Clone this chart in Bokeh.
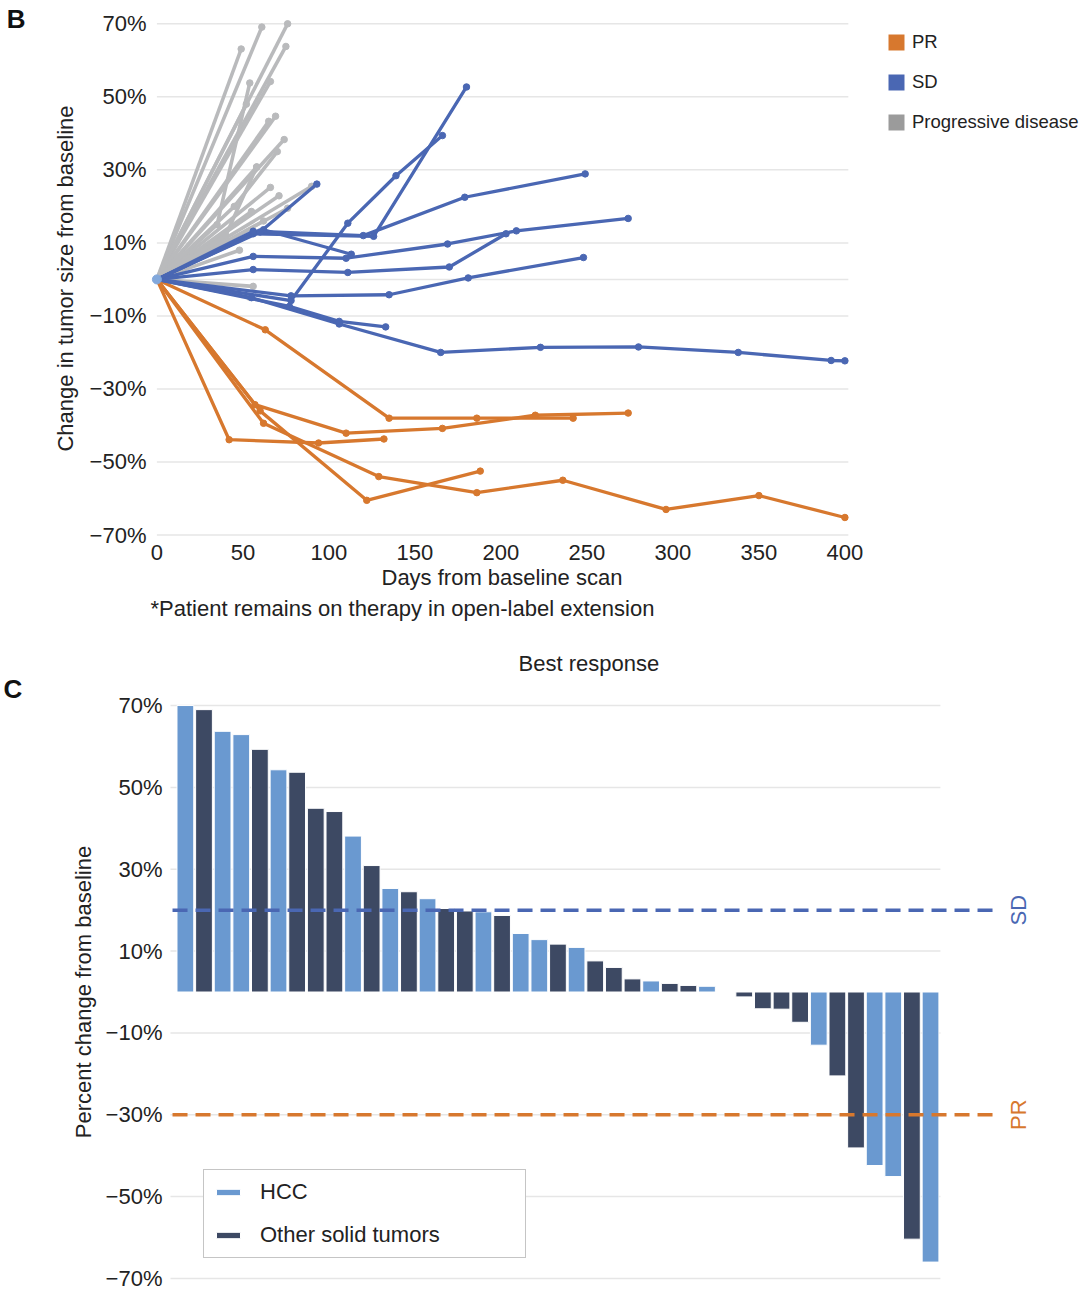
from math import pi
from bokeh.plotting import figure
from bokeh.models import Range1d, FixedTicker, Label, Legend, LegendItem, Title, LinearAxis
from bokeh.layouts import column
from bokeh.embed import file_html
from bokeh.resources import INLINE

FONT = "Liberation Sans"
TXT = "#222222"
ORANGE = "#d7782e"
BLUE = "#4a67b3"
GRAY = "#b9babc"
GRAY_LEG = "#9b9b9b"
ORIGIN_BLUE = "#82a8dc"
HCC_COLOR = "#6a99d0"
OTHER_COLOR = "#3d4963"
GRID = "#e6e6e6"

# ---------------- Panel B data ----------------
x_ticks_b = [0, 50, 100, 150, 200, 250, 300, 350, 400]
y_ticks_b = [70, 50, 30, 10, -10, -30, -50, -70]
y_labels_b = ["70%", "50%", "30%", "10%", "\u221210%", "\u221230%", "\u221250%", "\u221270%"]

pr_days = [
    [0, 63, 135, 186, 242],
    [0, 57, 110, 166, 220, 274],
    [0, 42, 94, 132],
    [0, 62, 129, 186, 236, 296, 350, 400],
    [0, 60, 122, 188],
]
pr_vals = [
    [0, -13.8, -38.0, -38.0, -38.0],
    [0, -34.3, -42.1, -40.8, -37.2, -36.6],
    [0, -43.9, -44.8, -43.7],
    [0, -39.4, -54.0, -58.4, -55.0, -63.0, -59.2, -65.2],
    [0, -36.0, -60.5, -52.5],
]

sd_days = [
    [0, 55, 106, 165, 223, 280, 338, 392, 400],
    [0, 77, 106, 133],
    [0, 78, 111, 139, 166],
    [0, 56, 126, 180],
    [0, 56, 120, 179, 249],
    [0, 56, 110, 169, 209, 274],
    [0, 56, 111, 170, 203],
    [0, 78, 135, 181, 248],
    [0, 62, 113],
    [0, 60, 93],
]
sd_vals = [
    [0, -5.0, -12.2, -20.0, -18.6, -18.5, -20.0, -22.2, -22.3],
    [0, -7.4, -11.5, -13.0],
    [0, -5.8, 15.4, 28.4, 39.4],
    [0, 12.5, 11.8, 52.7],
    [0, 13.2, 12.0, 22.5, 28.9],
    [0, 6.3, 5.8, 9.7, 13.3, 16.7],
    [0, 2.7, 1.9, 3.4, 12.5],
    [0, -4.5, -4.2, 0.4, 6.0],
    [0, 13.6, 6.9],
    [0, 13.0, 26.1],
]

pd_days = [
    [0, 61], [0, 76], [0, 49], [0, 75], [0, 35, 54], [0, 66], [0, 69], [0, 65],
    [0, 74], [0, 58], [0, 66], [0, 71], [0, 76], [0, 90], [0, 55], [0, 56], [0, 54],
    [0, 40, 58], [0, 52], [0, 45, 70], [0, 62], [0, 48],
]
pd_vals = [
    [0, 69.1], [0, 70.0], [0, 63.1], [0, 63.8], [0, 15.0, 53.8], [0, 54.2], [0, 44.7], [0, 43.3],
    [0, 38.3], [0, 30.8], [0, 25.2], [0, 22.9], [0, 19.5], [0, 25.5], [0, 18.6], [0, -1.9], [0, -4.9],
    [0, 12.0, 30.8], [0, 48.0], [0, 20.0, 35.0], [0, 16.0], [0, 8.0],
]

# ---------------- Panel C data ----------------
bar_vals = [70, 69, 63.7, 62.9, 59.3, 54.3, 53.7, 44.9, 44.1, 38.1,
            30.9, 25.3, 24.5, 22.8, 20.4, 19.8, 19.6, 18.7, 14.3, 12.8,
            11.7, 10.9, 7.6, 6.0, 3.2, 2.7, 2.1, 1.6, 1.4, 0,
            -1.2, -4.1, -4.2, -7.4, -13.0, -20.5, -38.1, -42.4, -45.1, -60.4,
            -66.0]
bar_types = ["HCC", "Other", "HCC", "HCC", "Other", "HCC", "Other", "Other", "Other", "HCC",
             "Other", "HCC", "Other", "HCC", "Other", "Other", "HCC", "Other", "HCC", "HCC",
             "Other", "HCC", "Other", "Other", "Other", "HCC", "Other", "Other", "HCC", "Other",
             "Other", "Other", "Other", "Other", "HCC", "Other", "Other", "HCC", "HCC", "Other",
             "HCC"]
y_ticks_c = [70, 50, 30, 10, -10, -30, -50, -70]
y_labels_c = ["70%", "50%", "30%", "10%", "\u221210%", "\u221230%", "\u221250%", "\u221270%"]
sd_threshold = 20
pr_threshold = -30


def style_axis(ax, size="22px"):
    ax.axis_line_color = None
    ax.major_tick_line_color = None
    ax.minor_tick_line_color = None
    ax.major_tick_out = 0
    ax.major_tick_in = 0
    ax.minor_tick_out = 0
    ax.minor_tick_in = 0
    ax.major_label_text_font = FONT
    ax.major_label_text_font_size = size
    ax.major_label_text_color = TXT
    ax.axis_label_text_font = FONT
    ax.axis_label_text_font_size = "22px"
    ax.axis_label_text_font_style = "normal"
    ax.axis_label_text_color = TXT


LEFT = 150

# ================= Panel B =================
pB = figure(width=1080, height=640, x_range=Range1d(-3.72, 536.98), y_range=Range1d(-71.5, 72),
            output_backend="svg", toolbar_location=None,
            min_border_left=LEFT, min_border_right=0, min_border_top=16, min_border_bottom=100,
            outline_line_color=None)
pB.grid.visible = False

grid_b = y_ticks_b + [0]
pB.segment(x0=[0] * len(grid_b), x1=[402] * len(grid_b), y0=grid_b, y1=grid_b,
           line_color=GRID, line_width=1.5)


def draw_group(p, days, vals, color, width=3.3):
    p.multi_line(xs=days, ys=vals, line_color=color, line_width=width, line_join="round")
    px = [d for row in days for d in row[1:]]
    py = [v for row in vals for v in row[1:]]
    p.scatter(px, py, size=6.5, fill_color=color, line_color=color)
    # zero-size boxes on the same points: used only as the legend swatch
    return p.rect(x=px, y=py, width=0, height=0, fill_color=color, line_color=None)


rPD = draw_group(pB, pd_days, pd_vals, GRAY, width=3.6)
rPR = draw_group(pB, pr_days, pr_vals, ORANGE)
rSD = draw_group(pB, sd_days, sd_vals, BLUE)
rPD.glyph.fill_color = GRAY_LEG
pB.scatter([sd_days[0][0]], [sd_vals[0][0]], size=9, fill_color=ORIGIN_BLUE, line_color=ORIGIN_BLUE)

pB.xaxis.ticker = FixedTicker(ticks=x_ticks_b)
pB.yaxis.ticker = FixedTicker(ticks=y_ticks_b)
pB.yaxis.major_label_overrides = {t: l for t, l in zip(y_ticks_b, y_labels_b)}
style_axis(pB.xaxis[0])
style_axis(pB.yaxis[0])
pB.xaxis.major_label_standoff = 4
pB.yaxis.major_label_standoff = 4
pB.yaxis.axis_label = "Change in tumor size from baseline"
pB.yaxis.axis_label_standoff = 9

# panel letter "B", drawn as the single label of an outer left axis
b_letter_pos = 71.4
letter_axis = LinearAxis(ticker=FixedTicker(ticks=[b_letter_pos]),
                         major_label_overrides={b_letter_pos: "B"})
style_axis(letter_axis, size="26px")
letter_axis.major_label_text_font_style = "bold"
letter_axis.major_label_text_color = "#111111"
letter_axis.major_label_standoff = 24
pB.add_layout(letter_axis, "left")

legB = Legend(items=[LegendItem(label="PR", renderers=[rPR]),
                     LegendItem(label="SD", renderers=[rSD]),
                     LegendItem(label="Progressive disease", renderers=[rPD])],
              location=(736, 406), orientation="vertical",
              glyph_width=20, glyph_height=20, label_height=24, spacing=16,
              padding=0, margin=0, label_standoff=6,
              label_text_font=FONT, label_text_font_size="18.5px", label_text_color=TXT,
              border_line_color=None, background_fill_alpha=0)
pB.add_layout(legB, "center")

pB.add_layout(Title(text="Days from baseline scan", align="left", offset=231, standoff=0,
                    text_font=FONT, text_font_size="22px", text_font_style="normal",
                    text_color=TXT), "below")
pB.add_layout(Title(text="*Patient remains on therapy in open-label extension", align="left",
                    offset=0, standoff=8, text_font=FONT, text_font_size="22px",
                    text_font_style="normal", text_color=TXT), "below")

# ================= Panel C =================
pC = figure(width=1080, height=650, x_range=Range1d(-0.872, 49.05), y_range=Range1d(-70.5, 70.5),
            x_axis_location=None, output_backend="svg", toolbar_location=None,
            min_border_left=LEFT, min_border_right=0, min_border_top=63, min_border_bottom=10,
            outline_line_color=None)
pC.grid.visible = False
pC.segment(x0=[0.2] * len(y_ticks_c), x1=[41.53] * len(y_ticks_c), y0=y_ticks_c, y1=y_ticks_c,
           line_color=GRID, line_width=1.5)

pos = list(range(1, len(bar_vals) + 1))
h_x = [p for p, t in zip(pos, bar_types) if t == "HCC"]
h_v = [v for v, t in zip(bar_vals, bar_types) if t == "HCC"]
o_x = [p for p, t in zip(pos, bar_types) if t == "Other"]
o_v = [v for v, t in zip(bar_vals, bar_types) if t == "Other"]
rH = pC.vbar(x=h_x, top=h_v, bottom=0, width=0.9, fill_color=HCC_COLOR, line_color="white", line_width=1)
rO = pC.vbar(x=o_x, top=o_v, bottom=0, width=0.9, fill_color=OTHER_COLOR, line_color="white", line_width=1)

pC.segment(x0=[0.31], x1=[44.75], y0=[sd_threshold], y1=[sd_threshold],
           line_color=BLUE, line_width=3.5, line_dash="15 8")
pC.segment(x0=[0.31], x1=[44.75], y0=[pr_threshold], y1=[pr_threshold],
           line_color=ORANGE, line_width=3.5, line_dash="15 8")
pC.add_layout(Label(x=45.72, y=sd_threshold, text="SD", angle=pi / 2, text_font=FONT,
                    text_font_size="22px", text_color=BLUE, text_align="center", text_baseline="middle"))
pC.add_layout(Label(x=45.72, y=pr_threshold, text="PR", angle=pi / 2, text_font=FONT,
                    text_font_size="22px", text_color=ORANGE, text_align="center", text_baseline="middle"))

pC.yaxis.ticker = FixedTicker(ticks=y_ticks_c)
pC.yaxis.major_label_overrides = {t: l for t, l in zip(y_ticks_c, y_labels_c)}
style_axis(pC.yaxis[0])
pC.yaxis.major_label_standoff = -12
pC.yaxis.axis_label = "Percent change from baseline"
pC.yaxis.axis_label_standoff = 7

legC = Legend(items=[LegendItem(label="HCC", renderers=[rH]),
                     LegendItem(label="Other solid tumors", renderers=[rO])],
              location=(53, 22), orientation="vertical",
              glyph_width=30, glyph_height=8, label_width=256, label_height=20,
              padding=9, spacing=17, margin=0, label_standoff=17,
              label_text_font=FONT, label_text_font_size="22px", label_text_color=TXT,
              border_line_color="#8c8c8c", border_line_width=1,
              background_fill_color="white", background_fill_alpha=1)
pC.add_layout(legC, "center")

pC.add_layout(Title(text="C", align="left", offset=-147, standoff=0,
                    text_font=FONT, text_font_size="26px", text_font_style="bold",
                    text_color="#111111"), "above")
pC.add_layout(Title(text="Best response", align="left", offset=368, standoff=-9,
                    text_font=FONT, text_font_size="22px", text_font_style="normal",
                    text_color=TXT), "above")

layout = column(pB, pC, spacing=0)
open("out.html", "w").write(file_html(layout, INLINE))
